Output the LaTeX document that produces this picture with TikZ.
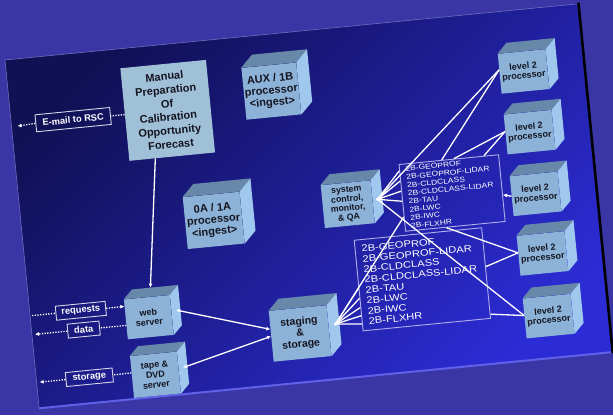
\documentclass[tikz,border=0pt]{standalone}
\usepackage{fontspec}
\setmainfont{Liberation Sans}
\newfontfamily\listfont[FakeStretch=1.2]{Liberation Sans}
\newfontfamily\smalllistfont[FakeStretch=1.18]{Liberation Sans}
\usetikzlibrary{calc,arrows.meta}
\definecolor{outerbg}{RGB}{58,54,166}
\definecolor{slidedark}{RGB}{16,16,84}
\definecolor{slidemid}{RGB}{32,32,170}
\definecolor{slidebright}{RGB}{44,44,214}
\definecolor{cubefrontc}{RGB}{140,178,216}
\definecolor{cubetopc}{RGB}{104,136,170}
\definecolor{cuberightc}{RGB}{160,200,238}
\definecolor{manualc}{RGB}{160,192,216}
\definecolor{listedge}{RGB}{176,176,236}
\definecolor{labeledge}{RGB}{214,214,232}
\definecolor{cubetext}{RGB}{20,20,30}
\definecolor{bottomedge}{RGB}{96,96,232}
\definecolor{thinedge}{RGB}{110,110,190}
\tikzset{
  cubefront/.style={fill=cubefrontc, inner sep=0pt, align=center, text=cubetext},
  cubetop/.style={fill=cubetopc},
  cuberight/.style={fill=cuberightc},
  flatbox/.style={fill=manualc, inner sep=0pt, align=center, text=cubetext,
    font=\bfseries\fontsize{11}{13.7}\selectfont},
  lbl/.style={draw=labeledge, line width=0.9pt, inner sep=0pt, text=white,
    font=\bfseries\fontsize{9.3}{10}\selectfont},
  listbox/.style={draw=listedge, line width=0.9pt, align=left, text=white},
  wire/.style={draw=white, line width=1.3pt},
  dots/.style={draw=white, line width=1.3pt, dash pattern=on 1.3pt off 1.4pt},
  tip/.style={-{Latex[length=4pt,width=4pt]}},
  twotips/.style={{Latex[length=4pt,width=4pt]}-{Latex[length=4pt,width=4pt]}},
}
% name, u, v, width, height, depth, {size}{skip}, text
\newcommand\mkcube[8]{%
  \node[cubefront, minimum width=#4pt, minimum height=#5pt,
        font=\bfseries\fontsize#7\selectfont] (#1) at (#2,-#3) {#8};
  \fill[cubetop] (#1.north west) -- ++(#6,#6) -- ($(#1.north east)+(#6,#6)$)
     -- (#1.north east) -- cycle;
  \fill[cuberight] (#1.north east) -- ++(#6,#6) -- ($(#1.south east)+(#6,#6)$)
     -- (#1.south east) -- cycle;
}
\begin{document}
\begin{tikzpicture}[x=1pt,y=1pt]
\useasboundingbox (0,0) rectangle (613,415);
\fill[outerbg] (0,0) rectangle (613,415);
\begin{scope}[shift={(5,355)}, rotate=5.6, transform shape]
  % slide
  \shade[top color=slidedark, middle color=slidemid, bottom color=slidebright,
         shading angle=45] (0,0) rectangle (575,-350);
  \draw[thinedge, line width=0.6pt] (0,-350) -- (0,0) -- (575,0);
  \draw[bottomedge, line width=2pt] (0,-350) -- (575,-350);
  \draw[black, line width=2.6pt] (576.3,1) -- (576.3,-351);

  % flat boxes
  \node[flatbox, minimum width=86pt, minimum height=93pt] (manual) at (157,-66)
    {Manual\\Preparation\\Of\\Calibration\\Opportunity\\Forecast};
  \node[lbl, minimum width=75pt, minimum height=17pt] (email) at (62,-66) {E-mail to RSC};
  \node[lbl, minimum width=50pt, minimum height=14pt] (req) at (51,-257) {requests};
  \node[lbl, minimum width=32pt, minimum height=14pt] (data) at (52,-276) {data};
  \node[lbl, minimum width=47pt, minimum height=14pt] (stor) at (53,-324) {storage};

  % cubes
  \mkcube{aux}{262}{57}{55}{52}{12}{{11}{11.8}}{AUX / 1B\\processor\\<ingest>}
  \mkcube{zeroa}{192}{180}{57}{52}{12}{{11}{11.8}}{0A / 1A\\processor\\<ingest>}
  \mkcube{sys}{327}{177}{50}{43}{10}{{8.8}{9.3}}{system\\control,\\monitor,\\\& QA}
  \mkcube{lone}{515}{62}{48}{40}{10}{{9}{9.4}}{level 2\\processor}
  \mkcube{ltwo}{515}{123}{48}{40}{10}{{9}{9.4}}{level 2\\processor}
  \mkcube{lthree}{515}{185}{48}{40}{10}{{9}{9.4}}{level 2\\processor}
  \mkcube{lfour}{516}{245}{48}{40}{10}{{9}{9.4}}{level 2\\processor}
  \mkcube{lfive}{516}{308}{48}{40}{10}{{9}{9.4}}{level 2\\processor}
  \mkcube{web}{118}{270}{46}{40}{9}{{9}{10}}{web\\server}
  \mkcube{tape}{119}{328}{47}{42}{9}{{9}{10}}{tape \&\\DVD\\server}
  \mkcube{stg}{267}{301}{58}{51}{11}{{10.5}{11.2}}{staging\\\&\\storage}

  % product lists
  \node[listbox, minimum width=100pt, minimum height=67pt, text width=88pt,
        inner xsep=6pt, inner ysep=1pt, font=\smalllistfont\fontsize{7.2}{8.2}\selectfont]
    (small) at (432,-176)
    {2B-GEOPROF\\2B-GEOPROF-LIDAR\\2B-CLDCLASS\\2B-CLDCLASS-LIDAR\\2B-TAU\\2B-LWC\\2B-IWC\\2B-FLXHR};
  \node[listbox, minimum width=128pt, minimum height=91pt, text width=115pt,
        inner xsep=6.5pt, font=\listfont\fontsize{9.3}{10.4}\selectfont]
    (big) at (394,-259)
    {2B-GEOPROF\\2B-GEOPROF-LIDAR\\2B-CLDCLASS\\2B-CLDCLASS-LIDAR\\2B-TAU\\2B-LWC\\2B-IWC\\2B-FLXHR};

  % free ends
  \coordinate (emailout) at (6,-67);
  \coordinate (reqin) at (2,-257);
  \coordinate (dataout) at (3,-276);
  \coordinate (storout) at (3,-324);
  \coordinate (shub) at ($(sys.east)+(5,2)$);
  \coordinate (ghub) at ($(stg.east)+(7,6)$);

  % dotted connectors
  \draw[dots] (manual.west) -- (email.east);
  \draw[dots, tip] (email.west) -- (emailout);
  \draw[dots] (reqin) -- (req.west);
  \draw[dots, tip] (req.east) -- ($(web.north west)!0.175!(web.south west)$);
  \draw[dots] ($(web.north west)!0.65!(web.south west)$) -- (data.east);
  \draw[dots, tip] (data.west) -- (dataout);
  \draw[dots] ($(tape.north west)!0.4!(tape.south west)$) -- (stor.east);
  \draw[dots, tip] (stor.west) -- (storout);

  % solid connectors
  \draw[wire, tip] ($(manual.south)+(-17,0)$) -- ($(web.north)+(4.5,9)$);
  \draw[wire, twotips] ($(web.east)+(4.5,4.5)$) -- ($(stg.west)+(0,7)$);
  \draw[wire, twotips] ($(tape.east)+(4.5,4.5)$) -- (stg.west);

  \foreach \f in {0.53,0.64,0.74,0.83,0.92}
    \draw[wire] (ghub) -- ($(big.north west)!\f!(big.south west)$);
  \draw[wire] (ghub) -- ($(small.north west)!0.78!(small.south west)$);

  \foreach \f in {0.1,0.25,0.4,0.55}
    \draw[wire] (shub) -- ($(small.north west)!\f!(small.south west)$);
  \draw[wire] (shub) -- ($(lone.west)+(0,4)$);
  \draw[wire] (shub) -- ($(lfive.west)+(0,3)$);

  \draw[wire] ($(small.north west)!0.43!(small.north east)$) -- ($(lone.west)+(0,4)$);
  \draw[wire] ($(small.north west)!0.55!(small.north east)$) -- ($(ltwo.west)+(0,3)$);
  \draw[wire] ($(small.north west)!0.85!(small.north east)$) -- ($(ltwo.west)+(0,3)$);
  \draw[wire, tip] (lthree.west) -- ($(small.north east)!0.6!(small.south east)$);
  \draw[wire] ($(small.south west)!0.41!(small.south east)$) -- ($(lfour.west)+(0,3)$);
  \draw[wire] ($(lfour.west)+(0,3)$) -- ($(big.north east)!0.43!(big.south east)$);
  \draw[wire] ($(lfive.west)+(0,3)$) -- ($(big.north east)!0.95!(big.south east)$);

  \fill[white] (shub) circle (1.8);
  \fill[white] (ghub) circle (1.8);
\end{scope}
\end{tikzpicture}
\end{document}
